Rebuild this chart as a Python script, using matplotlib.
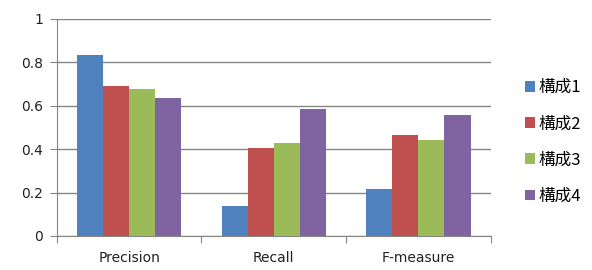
import matplotlib
matplotlib.use('Agg')
import matplotlib.pyplot as plt
import numpy as np

plt.rcParams['font.family'] = ['DejaVu Sans', 'Noto Sans CJK JP']

categories = ['Precision', 'Recall', 'F-measure']
series_names = ['構成1', '構成2', '構成3', '構成4']
conf1 = [0.834, 0.138, 0.217]
conf2 = [0.691, 0.405, 0.465]
conf3 = [0.677, 0.429, 0.442]
conf4 = [0.636, 0.585, 0.558]
colors = ['#4F81BD', '#C0504D', '#9BBB59', '#8064A2']

fig = plt.figure(figsize=(5.92, 2.70), dpi=100)
ax = fig.add_axes([0.096, 0.126, 0.733, 0.804])

x = np.arange(len(categories))
width = 0.18
for i, (vals, name) in enumerate(zip([conf1, conf2, conf3, conf4], series_names)):
    ax.bar(x + (i - 1.5) * width, vals, width, color=colors[i], label=name, zorder=3)

grid_c = '#868686'
ax.set_xlim(-0.5, 2.5)
ax.set_ylim(0, 1)
ax.set_yticks([0, 0.2, 0.4, 0.6, 0.8, 1])
ax.set_yticklabels(['0', '0.2', '0.4', '0.6', '0.8', '1'])
ax.yaxis.grid(True, color=grid_c, linewidth=1, zorder=0)
ax.set_xticks([-0.5, 0.5, 1.5, 2.5])
ax.set_xticklabels([])
ax.set_xticks(x, minor=True)
ax.set_xticklabels(categories, minor=True)
ax.tick_params(axis='x', which='minor', length=0, pad=11, labelsize=10, labelcolor='#222222')
ax.tick_params(axis='x', which='major', length=5, color=grid_c, direction='out')
ax.tick_params(axis='y', length=5, color=grid_c, labelsize=10, labelcolor='#222222', pad=5)
for s in ['top', 'right']:
    ax.spines[s].set_visible(False)
for s in ['left', 'bottom']:
    ax.spines[s].set_color(grid_c)

leg = ax.legend(loc='center left', bbox_to_anchor=(1.045, 0.433), frameon=False,
                handlelength=0.6, handleheight=0.6, handletextpad=0.2,
                labelspacing=1.15, prop={'family': ['Noto Sans CJK JP'], 'size': 12})

fig.savefig('out.png', dpi=100)
